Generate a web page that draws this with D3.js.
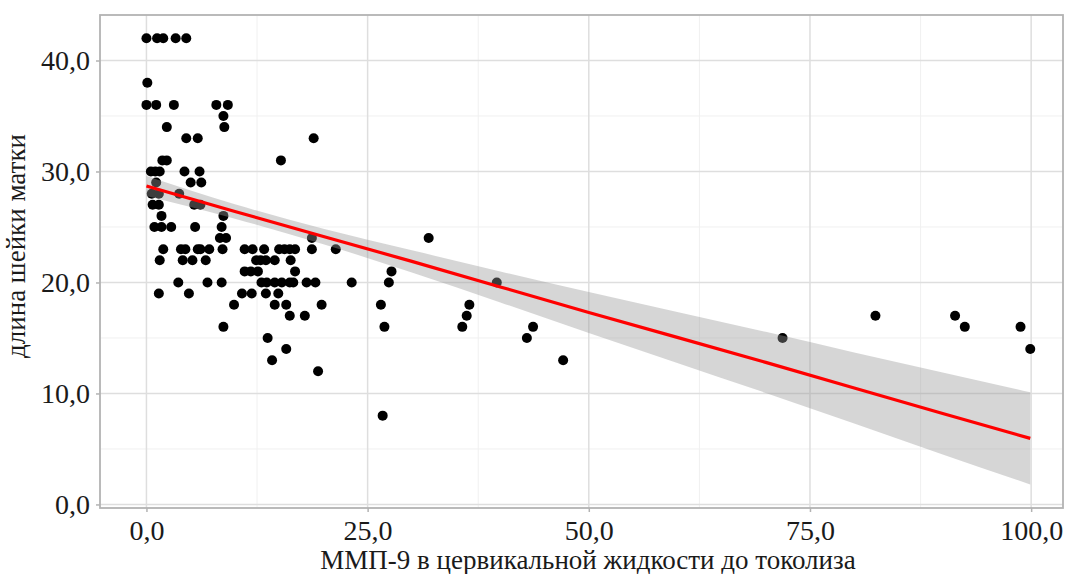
<!DOCTYPE html>
<html>
<head>
<meta charset="utf-8">
<script src="https://cdn.jsdelivr.net/npm/d3@7"></script>
<style>
  body { margin: 0; background: #fff; }
  svg { display: block; }
  .tick-label { font-family: "Liberation Serif", "Times New Roman", serif; font-size: 28px; fill: #1a1a1a; }
  .axis-title { font-family: "Liberation Serif", "Times New Roman", serif; font-size: 27px; fill: #1a1a1a; }
</style>
</head>
<body>
<svg id="chart" width="1065" height="574"></svg>
<script>
// points grouped by cervix length (y), x = MMP-9 values
const rowY = [42, 38, 36, 35, 34, 33, 31, 30, 29, 28, 27, 26, 25, 24, 23, 22, 21, 20, 19, 18, 17, 16, 15, 14, 13, 12, 8];
const rowX = [
  [0.0, 1.2, 1.9, 3.3, 4.5],
  [0.1],
  [0.0, 1.1, 3.1, 7.9, 9.2],
  [8.7],
  [2.3, 8.8],
  [4.5, 5.8, 18.9],
  [1.8, 2.3, 15.2],
  [0.5, 1.0, 1.5, 4.3, 6.0],
  [1.1, 5.0, 6.2],
  [0.6, 1.4, 3.7],
  [0.7, 1.4, 5.4, 6.1],
  [1.7, 8.7],
  [0.9, 1.7, 2.8, 5.5, 8.5],
  [8.3, 9.0, 18.7, 31.9],
  [1.9, 3.9, 4.4, 5.8, 6.1, 7.1, 8.6, 11.1, 12.0, 13.3, 15.0, 15.6, 16.2, 16.8, 18.7, 21.4],
  [1.5, 4.1, 5.2, 6.7, 12.4, 12.9, 13.5, 14.5, 16.3],
  [11.1, 11.8, 12.6, 16.8, 27.7],
  [3.6, 6.9, 8.5, 13.0, 13.6, 14.5, 15.3, 16.2, 16.6, 18.1, 19.1, 23.2, 27.4, 39.6],
  [1.4, 4.8, 10.8, 11.9, 13.5, 14.9],
  [9.9, 14.5, 15.8, 19.8, 26.5, 36.5],
  [16.2, 17.9, 36.2, 82.4, 91.4],
  [8.7, 26.9, 35.7, 43.7, 92.5, 98.8],
  [13.7, 43.0, 71.9],
  [15.8, 99.9],
  [14.2, 47.1],
  [19.4],
  [26.7]
];

// regression line and its 95% band
const fitX = [0, 10, 20, 30, 40, 50, 60, 70, 80, 90, 99.9];
const fitY = [28.7, 26.4, 24.15, 21.9, 19.6, 17.3, 15.05, 12.8, 10.5, 8.2, 5.95];
const bandLo = [27.8, 25.75, 23.45, 20.9, 18.2, 15.45, 12.75, 10.05, 7.3, 4.5, 1.8];
const bandHi = [29.6, 27.05, 24.85, 22.9, 21.0, 19.15, 17.35, 15.55, 13.7, 11.9, 10.1];

const xTicks = [0, 25, 50, 75, 100];
const xMinor = [12.5, 37.5, 62.5, 87.5];
const yTicks = [0, 10, 20, 30, 40];
const yMinor = [5, 15, 25, 35];
const xTitle = "ММП-9 в цервикальной жидкости до токолиза";
const yTitle = "длина шейки матки";

const points = [];
rowY.forEach((y, i) => rowX[i].forEach(x => points.push({x: x, y: y})));
const smooth = fitX.map((x, i) => ({x: x, fit: fitY[i], lo: bandLo[i], hi: bandHi[i]}));

const svg = d3.select("#chart");
const pLeft = 100, pRight = 1063, pTop = 15, pBottom = 508;

const x = d3.scaleLinear().domain([-5.25, 103.6]).range([pLeft, pRight]);
const y = d3.scaleLinear().domain([-0.32, 44.1]).range([pBottom, pTop]);

// grid
svg.append("g").selectAll("line").data(xMinor).enter().append("line")
  .attr("x1", d => x(d)).attr("x2", d => x(d)).attr("y1", pTop).attr("y2", pBottom)
  .attr("stroke", "#f0f0f0").attr("stroke-width", 1);
svg.append("g").selectAll("line").data(yMinor).enter().append("line")
  .attr("x1", pLeft).attr("x2", pRight).attr("y1", d => y(d)).attr("y2", d => y(d))
  .attr("stroke", "#f0f0f0").attr("stroke-width", 1);
svg.append("g").selectAll("line").data(xTicks).enter().append("line")
  .attr("x1", d => x(d)).attr("x2", d => x(d)).attr("y1", pTop).attr("y2", pBottom)
  .attr("stroke", "#dedede").attr("stroke-width", 1.5);
svg.append("g").selectAll("line").data(yTicks).enter().append("line")
  .attr("x1", pLeft).attr("x2", pRight).attr("y1", d => y(d)).attr("y2", d => y(d))
  .attr("stroke", "#dedede").attr("stroke-width", 1.5);

// points
svg.append("g").selectAll("circle").data(points).enter().append("circle")
  .attr("cx", d => x(d.x)).attr("cy", d => y(d.y)).attr("r", 5)
  .attr("fill", "#000");

// confidence band and fit line
svg.append("path").datum(smooth)
  .attr("d", d3.area().curve(d3.curveMonotoneX).x(d => x(d.x)).y0(d => y(d.lo)).y1(d => y(d.hi)))
  .attr("fill", "#999999").attr("fill-opacity", 0.4);
svg.append("path").datum(smooth)
  .attr("d", d3.line().x(d => x(d.x)).y(d => y(d.fit)))
  .attr("fill", "none").attr("stroke", "#ff0000").attr("stroke-width", 3.2);

// panel border
svg.append("rect").attr("x", pLeft).attr("y", pTop)
  .attr("width", pRight - pLeft).attr("height", pBottom - pTop)
  .attr("fill", "none").attr("stroke", "#b3b3b3").attr("stroke-width", 1.8);

// axes
const fmt = d => d3.format(".1f")(d).replace(".", ",");
const xAxis = svg.append("g").attr("transform", `translate(0,${pBottom})`)
  .call(d3.axisBottom(x).tickValues(xTicks).tickSize(4).tickPadding(8).tickFormat(fmt));
const yAxis = svg.append("g").attr("transform", `translate(${pLeft},0)`)
  .call(d3.axisLeft(y).tickValues(yTicks).tickSize(4).tickPadding(6).tickFormat(fmt));
[xAxis, yAxis].forEach(g => {
  g.select(".domain").remove();
  g.selectAll(".tick line").attr("stroke", "#b3b3b3").attr("stroke-width", 1.5);
  g.selectAll(".tick text").attr("class", "tick-label").attr("fill", null);
  g.attr("font-family", null).attr("font-size", null);
});

svg.append("text").attr("class", "axis-title")
  .attr("x", 588).attr("y", 569).attr("text-anchor", "middle")
  .text(xTitle);
svg.append("text").attr("class", "axis-title")
  .attr("transform", "translate(25,246) rotate(-90)")
  .attr("text-anchor", "middle")
  .text(yTitle);
</script>
</body>
</html>
